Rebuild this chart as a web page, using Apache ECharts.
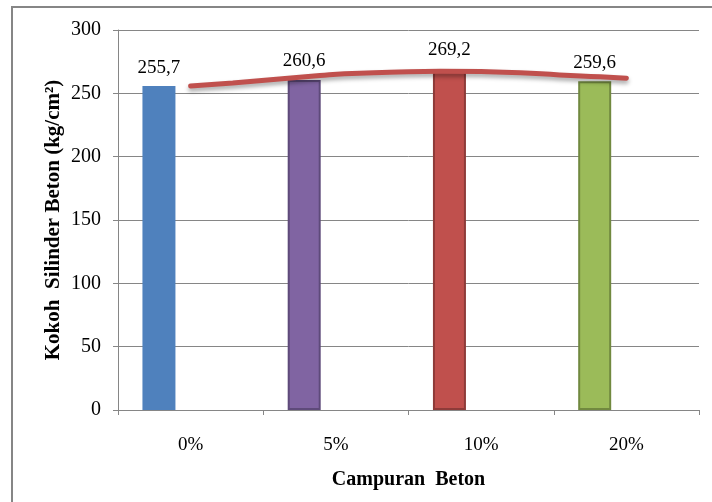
<!DOCTYPE html>
<html>
<head>
<meta charset="utf-8">
<script src="https://cdn.jsdelivr.net/npm/echarts@6/dist/echarts.min.js"></script>
<style>
  html, body { margin: 0; padding: 0; background: #fff; }
  #chart { width: 712px; height: 502px; }
</style>
</head>
<body>
<div id="chart"></div>
<script>
// Concrete cylinder strength per mix
const categories = ['0%', '5%', '10%', '20%'];
const strength = [255.7, 260.6, 269.2, 259.6];
const barColors = ['#4F81BD', '#8064A2', '#C0504D', '#9BBB59'];
const barBorders = ['#4F81BD', '#5E4A7A', '#8E3B39', '#71893F'];
const yTicks = [0, 50, 100, 150, 200, 250, 300];

// Trend curve samples: position in category units (0 = first category centre), value
const trendPos = [0, 0.29, 0.61, 0.89, 1.06, 1.37, 1.72, 2.0, 2.27, 2.54, 2.82, 3.0];
const trendVal = [255.8, 258.2, 261.3, 264.0, 265.5, 266.6, 267.5, 267.2, 266.3, 264.5, 263.1, 262.0];

const serif = '"Liberation Serif", "DejaVu Serif", serif';
const grey = '#868686';

const chart = echarts.init(document.getElementById('chart'), null, { renderer: 'canvas' });

const emptySlot = categories.map(() => '-');

chart.setOption({
  animation: false,
  backgroundColor: '#fff',
  graphic: [{
    type: 'rect',
    shape: { x: 12, y: 7, width: 760, height: 560 },
    style: { fill: 'none', stroke: grey, lineWidth: 2 },
    silent: true
  }],
  grid: { left: 118, right: 13, top: 30, bottom: 92, containLabel: false },
  xAxis: [{
    type: 'category',
    data: categories,
    axisLine: { onZero: false, lineStyle: { color: grey, width: 1 } },
    axisTick: { show: true, length: 5, lineStyle: { color: grey } },
    axisLabel: { color: '#000', fontFamily: serif, fontSize: 19, margin: 26 },
    name: 'Campuran  Beton',
    nameLocation: 'middle',
    nameGap: 60,
    nameTextStyle: { color: '#000', fontFamily: serif, fontSize: 20, fontWeight: 'bold' }
  }, {
    type: 'value',
    min: -0.5,
    max: 3.5,
    show: false
  }],
  yAxis: {
    type: 'value',
    min: yTicks[0],
    max: yTicks[yTicks.length - 1],
    interval: 50,
    axisLine: { show: true, onZero: false, lineStyle: { color: grey, width: 1 } },
    axisTick: { show: true, length: 5, lineStyle: { color: grey } },
    axisLabel: { color: '#000', fontFamily: serif, fontSize: 20, margin: 17 },
    splitLine: { lineStyle: { color: grey, width: 1 } },
    name: 'Kokoh  Silinder Beton (kg/cm²)',
    nameLocation: 'middle',
    nameGap: 54,
    nameMoveOverlap: false,
    nameTextStyle: { color: '#000', fontFamily: serif, fontSize: 21, fontWeight: 'bold' }
  },
  series: [{
    type: 'bar',
    xAxisIndex: 0,
    barWidth: 33,
    barGap: '-4%',
    data: strength.map((v, i) => ({
      value: v,
      itemStyle: { color: barColors[i], borderColor: barBorders[i], borderWidth: i === 0 ? 0 : 2 }
    })),
    label: {
      show: true,
      position: 'top',
      distance: 9,
      color: '#000',
      fontFamily: serif,
      fontSize: 19,
      formatter: p => String(p.value).replace('.', ',')
    }
  }, {
    type: 'bar', xAxisIndex: 0, barWidth: 33, barGap: '-4%', data: emptySlot
  }, {
    type: 'bar', xAxisIndex: 0, barWidth: 33, barGap: '-4%', data: emptySlot
  }, {
    type: 'line',
    xAxisIndex: 1,
    smooth: true,
    symbol: 'none',
    data: trendPos.map((p, i) => [p, trendVal[i]]),
    lineStyle: {
      color: '#C0504D',
      width: 5,
      cap: 'round',
      shadowColor: 'rgba(0,0,0,0.35)',
      shadowBlur: 4,
      shadowOffsetY: 3
    },
    z: 5
  }]
});
</script>
</body>
</html>
